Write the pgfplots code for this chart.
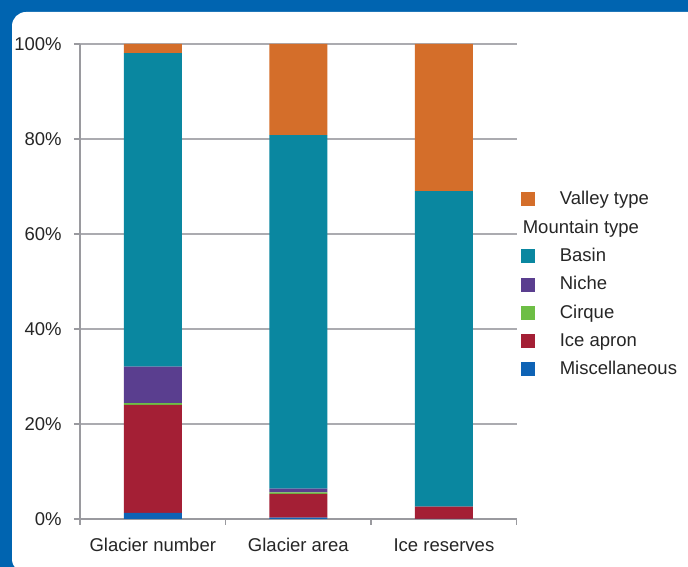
\documentclass[border=0pt]{standalone}
\usepackage{fontspec}
\setmainfont{Liberation Sans}
\usepackage{pgfplots}
\pgfplotsset{compat=1.18}
\definecolor{frameblue}{HTML}{0064B0}
\definecolor{valley}{HTML}{D46E2A}
\definecolor{basin}{HTML}{0A87A0}
\definecolor{niche}{HTML}{5A3E8F}
\definecolor{cirque}{HTML}{6DBE45}
\definecolor{iceapron}{HTML}{A41F35}
\definecolor{misc}{HTML}{0E63B5}
\definecolor{txt}{HTML}{262626}
\definecolor{axgray}{HTML}{9A9A9F}
\definecolor{gridgray}{HTML}{ABABB0}
\begin{document}
\fontsize{18.5}{22}\selectfont
\begin{tikzpicture}[x=1pt,y=1pt]
\useasboundingbox (0,0) rectangle (688,567);
\fill[frameblue] (0,0) rectangle (688,567);
\begin{scope}
\clip (0,0) rectangle (688,567);
\fill[white,rounded corners=14pt] (12,-6) rectangle (720,555);
\end{scope}
\begin{axis}[
  at={(80pt,48pt)}, anchor=south west,
  scale only axis, width=436.7pt, height=475pt,
  ybar stacked, bar width=58pt,
  xmin=-0.5, xmax=2.5, ymin=0, ymax=100,
  xtick={0,1,2},
  xticklabels={Glacier number, Glacier area, Ice reserves},
  minor xtick={-0.5,0.5,1.5,2.5},
  ytick={0,20,40,60,80,100},
  yticklabel={\pgfmathprintnumber{\tick}\%},
  /pgf/number format/assume math mode=true,
  axis x line*=bottom, axis y line*=left,
  axis line style={axgray, line width=1.5pt, -},
  tick align=outside,
  major tick length=6pt, minor tick length=6pt,
  major x tick style={draw=none},
  minor x tick style={axgray, line width=1.5pt},
  y tick style={axgray, line width=1.5pt},
  ymajorgrids,
  major grid style={gridgray, line width=2pt},
  tick label style={text=txt, font=\fontsize{18.5}{22}\selectfont},
  xticklabel style={yshift=-7pt},
  yticklabel style={xshift=-6pt},
  legend image code/.code={\fill[#1] (0pt,-7pt) rectangle (14pt,7pt);},
  reverse legend,
  legend cell align=left,
  legend style={at={(1.009,0.494)}, anchor=west, draw=none, fill=none,
    inner sep=0pt, row sep=8.3pt, font=\fontsize{18.5}{22}\selectfont,
    text=txt,
    /tikz/every odd column/.append style={column sep=23pt}},
]
\addplot[fill=misc, draw=none] coordinates {(0,1.3) (1,0.3) (2,0.05)};
\addlegendentry{Miscellaneous}
\addplot[fill=iceapron, draw=none] coordinates {(0,22.7) (1,5.0) (2,2.55)};
\addlegendentry{Ice apron}
\addplot[fill=cirque, draw=none] coordinates {(0,0.4) (1,0.3) (2,0.0)};
\addlegendentry{Cirque}
\addplot[fill=niche, draw=none] coordinates {(0,7.7) (1,0.8) (2,0.0)};
\addlegendentry{Niche}
\addplot[fill=basin, draw=none] coordinates {(0,66.0) (1,74.4) (2,66.4)};
\addlegendentry{Basin}
\addlegendimage{empty legend}
\addlegendentry{\hspace*{-37pt}Mountain type}
\addplot[fill=valley, draw=none] coordinates {(0,1.9) (1,19.2) (2,31.0)};
\addlegendentry{Valley type}
\end{axis}
\end{tikzpicture}
\end{document}
